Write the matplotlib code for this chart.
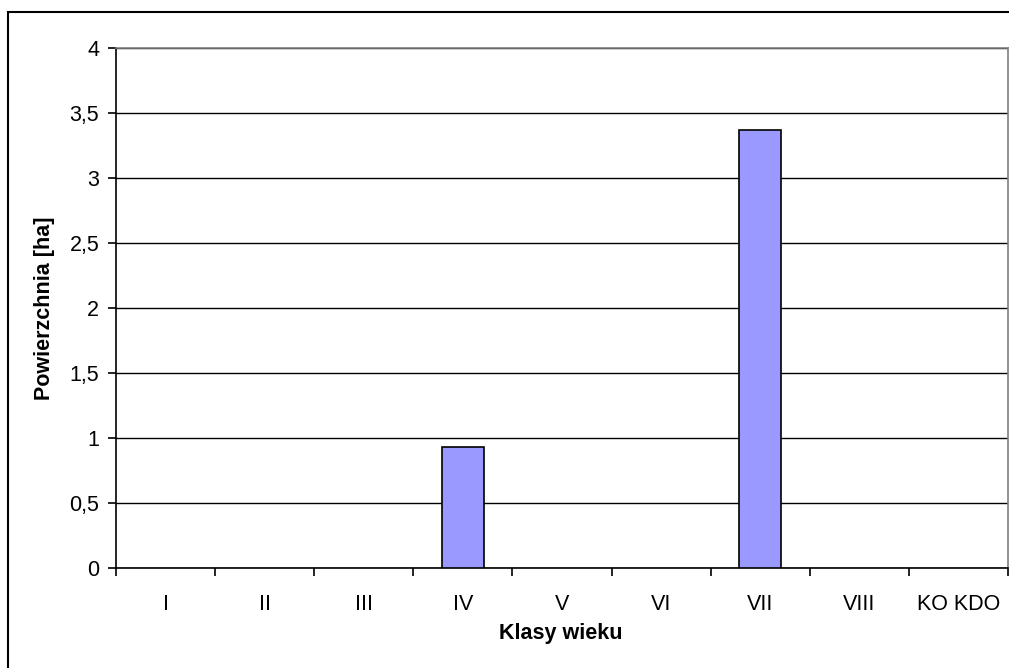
import matplotlib
matplotlib.use("Agg")
import matplotlib.pyplot as plt
from matplotlib.patches import Rectangle
from matplotlib.ticker import FixedLocator, FuncFormatter

categories = ["I", "II", "III", "IV", "V", "VI", "VII", "VIII", "KO KDO"]
values = [0, 0, 0, 0.93, 0, 0, 3.37, 0, 0]
y_ticks = [0, 0.5, 1, 1.5, 2, 2.5, 3, 3.5, 4]

plt.rcParams['font.family'] = ['Liberation Sans', 'DejaVu Sans']

W, H = 1009, 668
fig = plt.figure(figsize=(W / 100, H / 100), dpi=100)
fig.patch.set_facecolor("white")

# outer chart-area border (extends beyond right/bottom edges)
fig.patches.append(Rectangle((8 / W, -0.1), 1.2, (H - 12) / H + 0.1,
                             transform=fig.transFigure, fill=False,
                             edgecolor="black", linewidth=1.5, clip_on=False))

ax = fig.add_axes([116 / W, 1 - 568 / H, (1008 - 116) / W, (568 - 48) / H])
x = list(range(len(categories)))
bx = [i for i, v in zip(x, values) if v > 0]
bv = [v for v in values if v > 0]
ax.bar(bx, bv, width=0.42, color="#9999FF", edgecolor="black", linewidth=1.2, zorder=3)

ax.set_xlim(-0.5, len(categories) - 0.5)
ax.set_ylim(0, 4)
ax.set_yticks(y_ticks)
ax.yaxis.set_major_formatter(FuncFormatter(lambda v, p: ("%g" % v).replace(".", ",")))
ax.yaxis.grid(True, color="black", linewidth=1.0, zorder=0)
ax.set_axisbelow(True)

ax.set_xticks(x)
ax.set_xticklabels(categories)
ax.xaxis.set_minor_locator(FixedLocator([i - 0.5 for i in range(len(categories) + 1)]))
ax.tick_params(axis="x", which="major", length=0, pad=19, labelsize=15.5)
ax.tick_params(axis="x", which="minor", length=6, width=1.2, direction="out", color="black")
ax.tick_params(axis="y", length=6, width=1.2, direction="out", pad=6, labelsize=15.5)

for s in ["left", "bottom"]:
    ax.spines[s].set_color("black")
    ax.spines[s].set_linewidth(1.2)
for s in ["top", "right"]:
    ax.spines[s].set_color("#808080")
    ax.spines[s].set_linewidth(1.2)

fig.text(45 / W, 1 - 308 / H, "Powierzchnia [ha]", rotation=90, ha="center", va="center",
         fontsize=15.5, fontweight="bold")
fig.text(561 / W, 1 - 634 / H, "Klasy wieku", ha="center", va="center",
         fontsize=15.5, fontweight="bold")

fig.savefig("out.png", dpi=100, facecolor="white")
